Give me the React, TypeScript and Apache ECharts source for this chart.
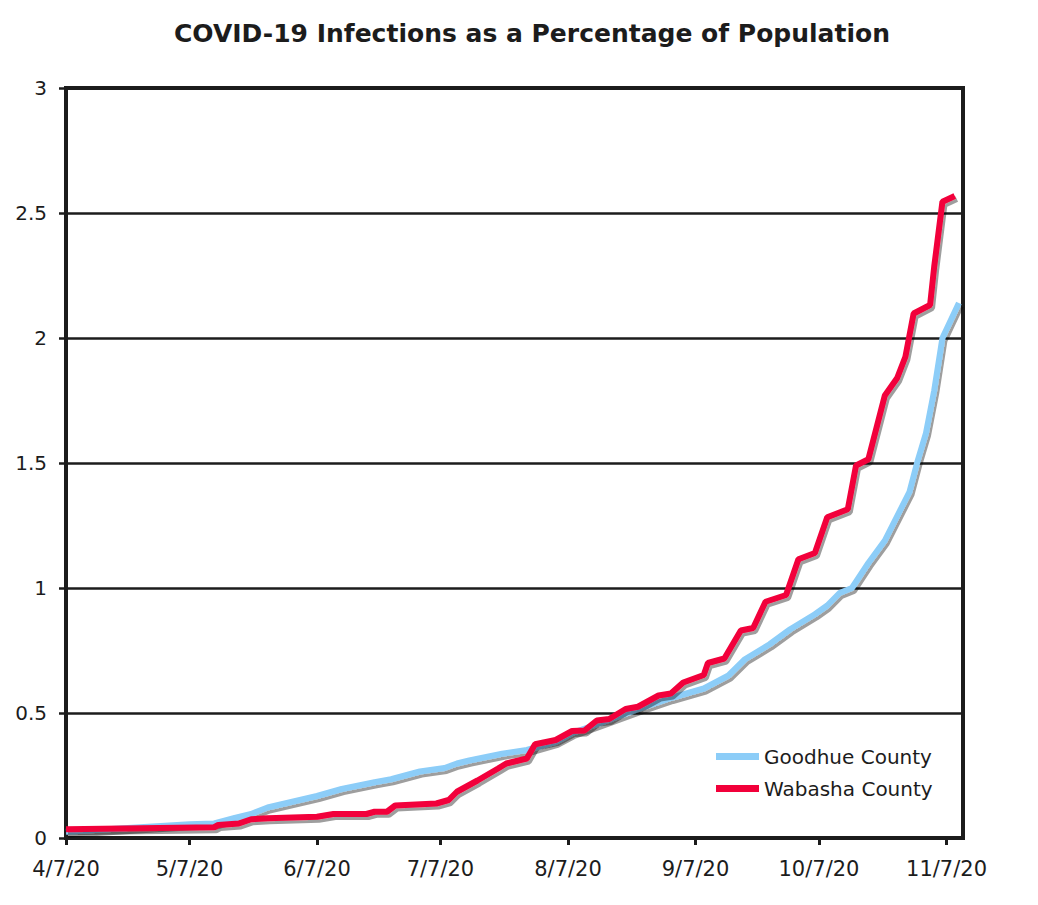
import React, { useEffect, useRef } from "react";
import * as echarts from "echarts";

const TITLE = "COVID-19 Infections as a Percentage of Population";
const SERIES_NAMES = ["Goodhue County", "Wabasha County"];
const Y_TICKS = [0, 0.5, 1, 1.5, 2, 2.5, 3];

// Category days 4/7/20 .. 11/11/20
const START = { y: 2020, m: 3, d: 7 };
const DAY_COUNT = 219;
const categories: string[] = [];
for (let i = 0; i < DAY_COUNT; i++) {
  const dt = new Date(START.y, START.m, START.d + i);
  categories.push(`${dt.getMonth() + 1}/${dt.getDate()}/20`);
}

const goodhue: [string, number][] = [
  ["4/7/20", 0.025],
  ["4/22/20", 0.04],
  ["5/7/20", 0.055],
  ["5/13/20", 0.058],
  ["5/18/20", 0.08],
  ["5/22/20", 0.096],
  ["5/26/20", 0.122],
  ["6/1/20", 0.145],
  ["6/7/20", 0.168],
  ["6/13/20", 0.196],
  ["6/21/20", 0.223],
  ["6/25/20", 0.235],
  ["7/2/20", 0.266],
  ["7/8/20", 0.28],
  ["7/11/20", 0.298],
  ["7/14/20", 0.31],
  ["7/22/20", 0.337],
  ["7/28/20", 0.352],
  ["8/4/20", 0.385],
  ["8/8/20", 0.42],
  ["8/14/20", 0.455],
  ["8/19/20", 0.485],
  ["8/24/20", 0.515],
  ["9/1/20", 0.56],
  ["9/9/20", 0.598],
  ["9/15/20", 0.65],
  ["9/19/20", 0.715],
  ["9/25/20", 0.775],
  ["9/30/20", 0.835],
  ["10/6/20", 0.895],
  ["10/9/20", 0.93],
  ["10/12/20", 0.98],
  ["10/15/20", 1.0],
  ["10/19/20", 1.1],
  ["10/23/20", 1.19],
  ["10/27/20", 1.32],
  ["10/29/20", 1.385],
  ["10/31/20", 1.51],
  ["11/2/20", 1.62],
  ["11/4/20", 1.79],
  ["11/6/20", 2.0],
  ["11/10/20", 2.14],
];

const wabasha: [string, number][] = [
  ["4/7/20", 0.035],
  ["5/13/20", 0.043],
  ["5/14/20", 0.052],
  ["5/19/20", 0.058],
  ["5/22/20", 0.075],
  ["5/26/20", 0.079],
  ["6/7/20", 0.085],
  ["6/11/20", 0.096],
  ["6/19/20", 0.096],
  ["6/21/20", 0.105],
  ["6/24/20", 0.105],
  ["6/26/20", 0.13],
  ["7/6/20", 0.138],
  ["7/9/20", 0.152],
  ["7/11/20", 0.185],
  ["7/16/20", 0.23],
  ["7/21/20", 0.278],
  ["7/23/20", 0.298],
  ["7/28/20", 0.318],
  ["7/30/20", 0.375],
  ["8/4/20", 0.392],
  ["8/8/20", 0.428],
  ["8/11/20", 0.43],
  ["8/14/20", 0.47],
  ["8/17/20", 0.476],
  ["8/21/20", 0.516],
  ["8/24/20", 0.525],
  ["8/29/20", 0.57],
  ["9/1/20", 0.578],
  ["9/4/20", 0.622],
  ["9/9/20", 0.652],
  ["9/10/20", 0.7],
  ["9/14/20", 0.718],
  ["9/18/20", 0.83],
  ["9/21/20", 0.84],
  ["9/24/20", 0.945],
  ["9/29/20", 0.972],
  ["10/2/20", 1.115],
  ["10/6/20", 1.14],
  ["10/9/20", 1.283],
  ["10/14/20", 1.315],
  ["10/16/20", 1.49],
  ["10/19/20", 1.515],
  ["10/23/20", 1.77],
  ["10/26/20", 1.84],
  ["10/28/20", 1.925],
  ["10/30/20", 2.098],
  ["11/3/20", 2.132],
  ["11/4/20", 2.285],
  ["11/6/20", 2.545],
  ["11/9/20", 2.568],
];

const FONT = "'DejaVu Sans', Verdana, sans-serif";
const INK = "#1c1c1c";
const BLUE = "#8ccdf8";
const RED = "#f2003a";

const isMonthTick = (_i: number, v: string) => v.split("/")[1] === "7";

export default function App() {
  const ref = useRef<HTMLDivElement>(null);
  useEffect(() => {
    document.body.style.margin = "0";
    if (!ref.current) return;
    const chart = echarts.init(ref.current, undefined, { renderer: "svg" });
    const shadow = {
      shadowColor: "rgba(0,0,0,0.38)",
      shadowBlur: 0,
      shadowOffsetX: 2,
      shadowOffsetY: 3,
    };
    chart.setOption({
      animation: false,
      backgroundColor: "#ffffff",
      graphic: [
        {
          type: "text",
          x: 532,
          y: 33,
          style: {
            text: TITLE,
            font: `bold 25px ${FONT}`,
            fill: INK,
            textAlign: "center",
            textVerticalAlign: "middle",
          },
        },
      ],
      grid: {
        left: 66,
        right: 75,
        top: 88,
        bottom: 67,
        show: true,
        borderColor: INK,
        borderWidth: 4,
        backgroundColor: "transparent",
      },
      legend: {
        orient: "vertical",
        left: 711,
        top: 741,
        itemWidth: 43,
        itemHeight: 7,
        itemGap: 11,
        icon: "rect",
        textStyle: { fontFamily: FONT, fontSize: 20, color: INK, lineHeight: 21 },
        data: SERIES_NAMES,
      },
      xAxis: {
        type: "category",
        data: categories,
        boundaryGap: false,
        axisLine: { show: true, lineStyle: { color: INK, width: 4 } },
        axisTick: {
          show: true,
          interval: isMonthTick,
          length: 7,
          lineStyle: { color: INK, width: 3 },
        },
        axisLabel: {
          interval: isMonthTick,
          margin: 20,
          fontFamily: FONT,
          fontSize: 21,
          color: INK,
        },
        splitLine: { show: false },
      },
      yAxis: {
        type: "value",
        min: Y_TICKS[0],
        max: Y_TICKS[Y_TICKS.length - 1],
        interval: 0.5,
        axisLine: { show: true, lineStyle: { color: INK, width: 4 } },
        axisTick: { show: true, length: 7, lineStyle: { color: INK, width: 2.5 } },
        axisLabel: {
          margin: 19,
          fontFamily: FONT,
          fontSize: 20,
          color: INK,
        },
        splitLine: { show: true, lineStyle: { color: INK, width: 2.5 } },
      },
      series: [
        {
          name: SERIES_NAMES[0],
          type: "line",
          data: goodhue,
          symbol: "none",
          showSymbol: false,
          color: BLUE,
          lineStyle: { color: BLUE, width: 6, ...shadow },
        },
        {
          name: SERIES_NAMES[1],
          type: "line",
          data: wabasha,
          symbol: "none",
          showSymbol: false,
          color: RED,
          lineStyle: { color: RED, width: 6, ...shadow },
        },
      ],
    });
    return () => chart.dispose();
  }, []);
  return <div ref={ref} style={{ width: 1038, height: 905 }} />;
}
